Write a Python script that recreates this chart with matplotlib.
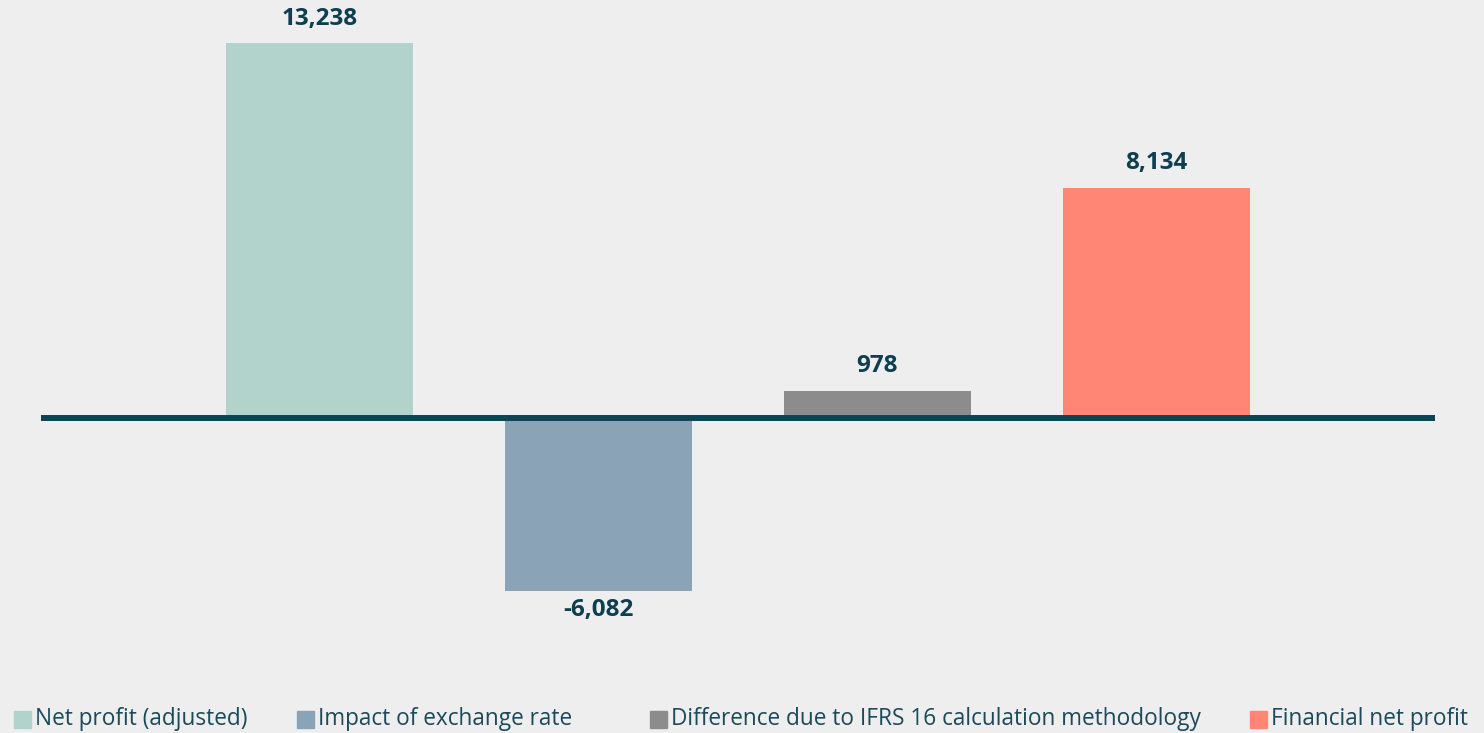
import matplotlib
matplotlib.use("Agg")
import matplotlib.pyplot as plt
from matplotlib.patches import Rectangle

categories = ["Net profit (adjusted)", "Impact of exchange rate",
              "Difference due to IFRS 16 calculation methodology", "Financial net profit"]
values = [13238, -6082, 978, 8134]
labels = ["13,238", "-6,082", "978", "8,134"]
colors = ["#b2d3cc", "#8ba3b6", "#8c8c8c", "#ff8675"]

W, H = 1484, 733
fig = plt.figure(figsize=(W / 100, H / 100), dpi=100)
fig.patch.set_facecolor("#eeeeee")
plt.rcParams['font.family'] = ['Open Sans', 'DejaVu Sans']

# axes spans px 41..1435 horizontally, 10..650 vertically
ax = fig.add_axes([41 / W, 1 - 650 / H, (1435 - 41) / W, 640 / H])
ax.set_facecolor("#eeeeee")
upp = 13238 / 375.0
ax.set_ylim(-(650 - 418.5) * upp, (418.5 - 10) * upp)
ax.set_xlim(0, 5)
xs = [1, 2, 3, 4]
ax.bar(xs, values, width=0.67, color=colors, zorder=2)
ax.axhline(0, color="#0c4456", lw=4.3, zorder=3)
for x, v, lab in zip(xs, values, labels):
    off = 25 if v >= 0 else -19
    ax.annotate(lab, (x, v), xytext=(0, off * 0.72), textcoords="offset points",
                ha="center", va="center", fontsize=17.5, fontweight="bold", color="#0d3f50")
for s in ax.spines.values():
    s.set_visible(False)
ax.set_xticks([])
ax.set_yticks([])

# legend
leg_x = [14, 297, 650, 1250]
ycen = 720
for x0, cat, c in zip(leg_x, categories, colors):
    fig.patches.append(Rectangle((x0 / W, 1 - (ycen + 8) / H), 17 / W, 17 / H,
                                 transform=fig.transFigure, color=c))
    fig.text((x0 + 21) / W, 1 - (ycen - 1) / H, cat, ha="left", va="center",
             fontsize=16.3, color="#1c4a5a")

fig.savefig("out.png", dpi=100, facecolor=fig.get_facecolor())
